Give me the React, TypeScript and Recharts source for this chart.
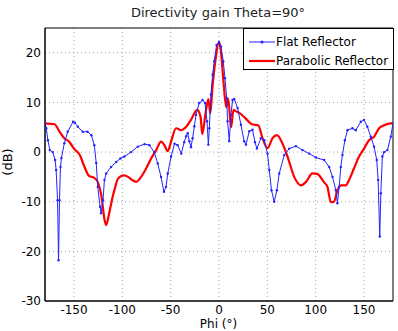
import { CartesianGrid, Line, LineChart, ReferenceArea, XAxis, YAxis } from "recharts";

// Directivity gain at Theta=90°, Phi sweep, two reflector types
const PHI_FLAT = [
  -180, -178.7, -177, -175, -172, -169.5, -168.5, -167, -166, -165, -164, -163, -160, -156.5, -151, -149,
  -146, -141, -136, -132, -129, -127, -125.4, -123, -122, -120, -118.5, -116.7, -111.6, -106.4, -102,
  -97.8, -91, -84, -77, -72, -67, -63.4, -60, -57, -54.8, -53, -49.6, -46, -42.8, -39, -36, -34, -32.4,
  -30.7, -29, -27.3, -25.5, -23.8, -20.4, -17, -14.5, -12.4, -11, -10, -8.3, -6.6, -4.9, -2.5, 0, 2, 4.4,
  6.2, 7.9, 8.9, 10.6, 12.4, 14, 15.8, 19.2, 22.7, 26, 27.9, 31.3, 34.7, 37.2, 39.2, 43.4, 46.8, 50.2, 52,
  54.3, 57.1, 59.9, 62.3, 67.5, 72.6, 79.5, 86.4, 93.3, 100.2, 108.8, 114, 117.4, 120.9, 122.5, 124.3,
  126, 127.7, 130.2, 132.9, 138, 141.5, 146.7, 150, 153.5, 157, 160.4, 163.2, 164.6, 166.3, 167.4, 169,
  170.8, 174.2, 177.7, 180,
];
const GAIN_FLAT = [
  5.8, 4.8, 2.4, 0.4, 0, -1.6, -3.6, -9.7, -21.8, -9.7, -3, -1.2, 1.8, 4.1, 6.1, 5.9,
  5.1, 4.1, 4.1, 3.4, 1.4, -2.2, -7, -11, -12.3, -9.7, -5.6, -4.3, -3, -2, -1.3,
  -0.9, 0, 1.1, 1.6, 1.4, 0, -2.3, -5, -8, -7, -4.3, -0.9, 1.7, 1.4, -0.3, 2.0, 3.2, 3.8,
  2.2, 1.0, 2.8, 5.2, 7.5, 9.9, 10.5, 9.9, 6.2, 1.5, 4.8, 11.6, 15.6, 18.3, 21.6, 22.2, 21.3, 18.3,
  14.9, 10.9, 6.2, 2.2, 7.5, 10.5, 10.7, 8.9, 5.5, 2.2, 1.5, 4.2, 4.5, 2.0, 0.7, 2.8, 2.4, -0.3, -3.6,
  -7.7, -10, -7.7, -4.3, -0.6, 0.7, 1.2, 0.4, -0.3, -1.1, -1.6, -3, -5, -7.7, -10.3, -7,
  -3, -0.6, 2.4, 4.4, 4.8, 4.4, 6.1, 6.5, 5.1, 3.1, 1.1, -1.6, -5.6, -17, -8.3, -0.9,
  0, 0.4, 3.1, 5.8,
];

const PHI_PARABOLIC = [
  -180, -170, -165, -160, -155, -150, -144, -139.5, -134.5, -129, -126, -121.5, -118.5, -116.7, -113.3,
  -110, -107, -104.7, -98.5, -94, -90, -85.5, -80.6, -75.4, -70.2, -65, -60, -56.5, -53, -49.6, -44.4,
  -39, -34, -29, -22.5, -19, -17.3, -13.8, -11, -9, -6.8, -3.5, 0, 2, 4.8, 7.5, 9.5, 12.5, 15, 17.5, 21,
  27.5, 34, 40.6, 45, 50.2, 55.4, 59.9, 65.7, 70.9, 77.8, 84.7, 90, 96.7, 101.5, 108.8, 112.2, 115.7,
  119, 122.5, 126, 131.2, 134.6, 139.8, 144.9, 150, 155.2, 160.4, 165.6, 170.8, 177.7, 180,
];
const GAIN_PARABOLIC = [
  5.8, 5.6, 4.1, 2.8, 2.1, 0.7, -0.6, -2.8, -4.8, -5.2, -5.8, -9, -13.5, -14.7, -12,
  -9, -6.8, -5.4, -4.7, -5.0, -5.6, -6, -5, -3.3, -1.3, 0.4, 2.1, 1.4, 0.2, 2.1, 4.8,
  4.4, 5.1, 6.5, 8.5, 7.0, 3.6, 8.0, 10.7, 7.8, 13.0, 18.8, 22.2, 20.3, 13.8, 9.0, 10.8, 5.0, 8.5, 8.2, 7.9,
  6.8, 5.6, 5.4, 2.8, 0.8, 2.8, 3.4, 1.7, -0.9, -5, -6.7, -6, -4.3, -4.4, -6.1, -7, -10.1,
  -10, -7.7, -6.7, -6.7, -5.6, -3.2, -0.9, 0.7, 2.4, 3.1, 4.8, 5.4, 5.8, 5.8,
];

const X_TICKS = [-150, -100, -50, 0, 50, 100, 150];
const Y_TICKS = [-30, -20, -10, 0, 10, 20];

const flatData = PHI_FLAT.map((phi, i) => ({ phi, gain: GAIN_FLAT[i] }));
const parabolicData = PHI_PARABOLIC.map((phi, i) => ({ phi, gain: GAIN_PARABOLIC[i] }));

const FONT = "'DejaVu Sans', sans-serif";
const BLUE = "#2323ff";
const RED = "#ff0000";

export default function App() {
  return (
    <div style={{ position: "fixed", left: 0, top: 0, width: 398, height: 331, overflow: "hidden", background: "#fff", fontFamily: FONT }}>
      <LineChart width={398} height={331} margin={{ top: 28, right: 5, bottom: 0, left: 0 }}>
        <CartesianGrid stroke="#a0a0a0" strokeDasharray="1 3" horizontalValues={[-20, -10, 0, 10, 20]} verticalValues={X_TICKS} />
        <XAxis
          dataKey="phi"
          type="number"
          domain={[-180, 180]}
          ticks={X_TICKS}
          allowDataOverflow
          height={30}
          tickSize={2}
          tickLine={false}
          axisLine={{ stroke: "#000" }}
          tick={{ fill: "#000", fontSize: 12, fontFamily: FONT }}
        />
        <YAxis
          type="number"
          domain={[-30, 25]}
          ticks={Y_TICKS}
          allowDataOverflow
          width={45}
          tickSize={2}
          tickLine={false}
          axisLine={{ stroke: "#000" }}
          tick={{ fill: "#000", fontSize: 12, fontFamily: FONT }}
        />
        <ReferenceArea x1={-180} x2={180} y1={-30} y2={25} fill="none" stroke="#000" strokeWidth={1} />
        <Line
          data={parabolicData}
          dataKey="gain"
          type="monotone"
          stroke={RED}
          strokeWidth={2.2}
          dot={false}
          isAnimationActive={false}
        />
        <Line
          data={flatData}
          dataKey="gain"
          type="linear"
          stroke={BLUE}
          strokeWidth={1}
          dot={{ r: 1.2, fill: BLUE, stroke: "none" }}
          isAnimationActive={false}
        />
      </LineChart>

      <div style={{ position: "absolute", left: 0, width: 436, top: 5, textAlign: "center", fontSize: 13, lineHeight: "16px", color: "#222" }}>
        Directivity gain Theta=90°
      </div>
      <div style={{ position: "absolute", left: 0, width: 437, top: 318, textAlign: "center", fontSize: 12, lineHeight: "13px", color: "#000" }}>
        Phi (°)
      </div>
      <div
        style={{
          position: "absolute",
          left: 8,
          top: 162,
          transform: "translate(-50%, -50%) rotate(-90deg)",
          fontSize: 13,
          lineHeight: "16px",
          color: "#000",
          whiteSpace: "nowrap",
        }}
      >
        (dB)
      </div>

      <div
        style={{
          position: "absolute",
          left: 243,
          top: 28,
          width: 149,
          height: 40,
          border: "1px solid #000",
          background: "#fff",
          fontSize: 12,
          color: "#000",
        }}
      >
        <svg width={30} height={40} style={{ position: "absolute", left: 3, top: 0 }}>
          <line x1={2} x2={28} y1={13} y2={13} stroke={BLUE} strokeWidth={1} />
          <circle cx={15} cy={13} r={1.5} fill={BLUE} />
          <line x1={2} x2={28} y1={32} y2={32} stroke={RED} strokeWidth={2.2} />
        </svg>
        <div style={{ position: "absolute", left: 32, top: 5, lineHeight: "16px", whiteSpace: "nowrap" }}>Flat Reflector</div>
        <div style={{ position: "absolute", left: 32, top: 24, lineHeight: "16px", whiteSpace: "nowrap" }}>Parabolic Reflector</div>
      </div>
    </div>
  );
}
